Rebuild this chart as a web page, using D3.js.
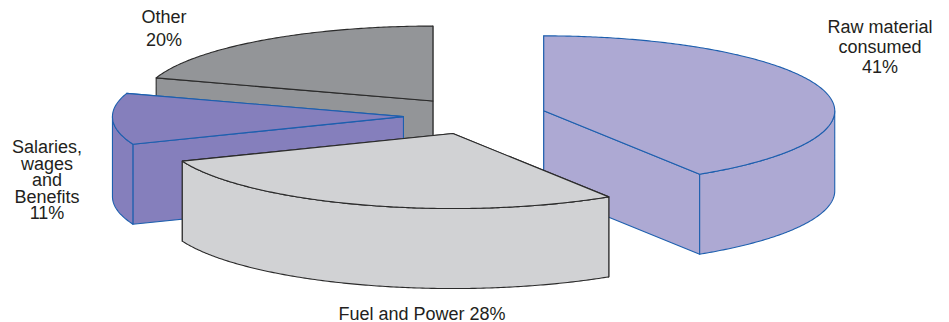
<!DOCTYPE html>
<html>
<head>
<meta charset="utf-8">
<script src="https://cdn.jsdelivr.net/npm/d3@7"></script>
<style>
  body { margin: 0; background: #fff; }
  svg { display: block; }
  text { font-family: "Liberation Sans", Arial, Helvetica, sans-serif; font-size: 18px; fill: #231f20; }
</style>
</head>
<body>
<svg id="chart" width="949" height="322"></svg>
<script>
// Cost structure shares (percent)
const categories = ["Raw material consumed", "Fuel and Power", "Salaries, wages and Benefits", "Other"];
const shares = [41, 28, 11, 20];
// Label text, split into lines; the percentage is appended from shares
const labelNameLines = [["Raw material", "consumed"], ["Fuel and Power"], ["Salaries,", "wages", "and", "Benefits"], ["Other"]];
const labelInline = [false, true, false, false];
const fills = ["#ada9d3", "#d1d2d4", "#857fbc", "#939598"];
const strokes = ["#1d5fae", "#2b2b2b", "#1d5fae", "#2b2b2b"];

// Label anchors: centre x, first baseline y, line spacing
const labelLayout = [
  { x: 880, y: 33, dy: 20 },
  { x: 422, y: 320, dy: 0 },
  { x: 47, y: 153, dy: 16.6 },
  { x: 164, y: 23, dy: 23 }
];

// 3D pie geometry
const geo = { cx: 475, cy: 116, rx: 291, ry: 75, depth: 80, explode: 0.246 };

const svg = d3.select("#chart");
const data = categories.map((c, i) => ({ name: c, value: shares[i], i }));

// d3.pie angles start at 12 o'clock (the back of the tilted disc) and run clockwise
const arcs = d3.pie().sort(null).value(d => d.value)(data);

// parametric angle: 0 = right, +90deg = front
const theta = a => a - Math.PI / 2;

function slicePieces(a) {
  const t0 = theta(a.startAngle), t1 = theta(a.endAngle);
  const tm = (t0 + t1) / 2;
  const ox = geo.cx + geo.explode * geo.rx * Math.cos(tm);
  const oy = geo.cy + geo.explode * geo.ry * Math.sin(tm);
  const P = (t, dz = 0) => [ox + geo.rx * Math.cos(t), oy + geo.ry * Math.sin(t) + dz];
  const arcPts = (s, e, dz = 0) => {
    const n = Math.max(2, Math.ceil(Math.abs(e - s) / 0.01));
    return d3.range(n + 1).map(k => P(s + (e - s) * k / n, dz));
  };
  const C = [ox, oy], Cb = [ox, oy + geo.depth];
  const line = d3.line();

  const top = line([C, ...arcPts(t0, t1)]) + "Z";

  // radial cut faces: back-facing first so the front ones paint over
  const faces = [];
  const f0 = { vis: -Math.cos(t0), d: line([C, P(t0), P(t0, geo.depth), Cb]) + "Z" };
  const f1 = { vis: Math.cos(t1), d: line([C, P(t1), P(t1, geo.depth), Cb]) + "Z" };
  faces.push(f0, f1);
  faces.sort((p, q) => p.vis - q.vis);

  // outer wall: only the front half of the rim (0..180deg) is seen
  let wall = null;
  const s = Math.max(t0, 0), e = Math.min(t1, Math.PI);
  if (e > s) {
    const upper = arcPts(s, e);
    const lower = arcPts(s, e, geo.depth).reverse();
    wall = line([...upper, ...lower]) + "Z";
  }
  return { top, faces, wall, depthKey: Math.sin(tm) };
}

const pieces = arcs.map(a => ({ a, ...slicePieces(a) }))
  .sort((p, q) => p.depthKey - q.depthKey);

const g = svg.append("g").attr("stroke-linejoin", "round");
pieces.forEach(p => {
  const i = p.a.data.i;
  const sg = g.append("g")
    .attr("fill", fills[i])
    .attr("stroke", strokes[i])
    .attr("stroke-width", 1.1);
  p.faces.forEach(f => sg.append("path").attr("d", f.d));
  if (p.wall) sg.append("path").attr("d", p.wall);
  sg.append("path").attr("d", p.top);
});

// labels
const lg = svg.append("g").attr("text-anchor", "middle");
data.forEach((d, i) => {
  const L = labelLayout[i];
  const pct = d.value + "%";
  const lines = labelInline[i]
    ? [labelNameLines[i].join(" ") + " " + pct]
    : [...labelNameLines[i], pct];
  const t = lg.append("text").attr("x", L.x).attr("y", L.y);
  lines.forEach((ln, k) => {
    t.append("tspan").attr("x", L.x).attr("y", L.y + k * L.dy).text(ln);
  });
});
</script>
</body>
</html>
